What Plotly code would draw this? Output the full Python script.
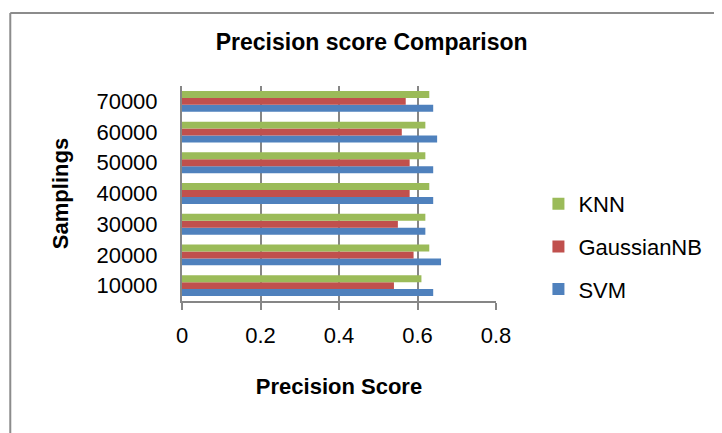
import plotly.graph_objects as go

categories = ["10000", "20000", "30000", "40000", "50000", "60000", "70000"]
svm = [0.64, 0.66, 0.62, 0.64, 0.64, 0.65, 0.64]
gaussian_nb = [0.54, 0.59, 0.55, 0.58, 0.58, 0.56, 0.57]
knn = [0.61, 0.63, 0.62, 0.63, 0.62, 0.62, 0.63]
x_ticks = [0, 0.2, 0.4, 0.6, 0.8]
x_tick_labels = ["0", "0.2", "0.4", "0.6", "0.8"]

FONT = "Liberation Sans, Arial, sans-serif"
GRID = "#868686"
FS = 22

fig = go.Figure()
for name, vals, col, rank in [("SVM", svm, "#4F81BD", 3),
                              ("GaussianNB", gaussian_nb, "#C0504D", 2),
                              ("KNN", knn, "#9BBB59", 1)]:
    fig.add_trace(go.Bar(y=categories, x=vals, name=name, orientation="h",
                         marker=dict(color=col, line=dict(width=0)),
                         legendgroup=name, legendrank=rank))

W, H = 722, 433
OFF = 8  # page body margin offset
# plot area in screen pixels: x 182 -> 496.5, y 86 -> 301
L, T = 182 - OFF, 86 - OFF
pw, ph = 314.5, 215
R = W - L - pw
B = H - T - ph

def px2x(p):
    return (p - OFF - L) / pw

def py2y(p):
    return (T + ph - (p - OFF)) / ph

BORDER = dict(color="#8c8c8c", width=2)

fig.update_layout(
    width=W, height=H,
    margin=dict(l=L, r=R, t=T, b=B, autoexpand=False),
    paper_bgcolor="white", plot_bgcolor="white",
    font=dict(family=FONT, size=FS, color="black"),
    barmode="group", bargap=0.32, bargroupgap=0,
    title=dict(text="<b>Precision score Comparison</b>", x=px2x(372), xref="paper",
               xanchor="center", y=1 - (42 - OFF) / H, yref="container", yanchor="middle",
               font=dict(size=23)),
    showlegend=True,
    legend=dict(x=px2x(539), y=py2y(183), xanchor="left", yanchor="top",
                traceorder="grouped", tracegroupgap=11,
                font=dict(size=FS), bgcolor="rgba(0,0,0,0)"),
    xaxis=dict(range=[0, 0.8], tickvals=x_ticks, ticktext=x_tick_labels,
               showgrid=True, gridcolor=GRID, gridwidth=1.5,
               showline=True, linecolor=GRID, linewidth=2,
               ticks="outside", ticklen=7, tickcolor=GRID, tickwidth=1.5,
               ticklabelstandoff=7, zeroline=False,
               title=dict(text="<b>Precision Score</b>", standoff=31, font=dict(size=FS))),
    yaxis=dict(type="category", showgrid=False, showline=True, linecolor=GRID,
               linewidth=2, ticks="", ticklabelstandoff=18,
               title=dict(text="<b>Samplings</b>", standoff=22, font=dict(size=FS))),
    shapes=[
        dict(type="line", xref="paper", yref="paper",
             x0=px2x(10), x1=px2x(10), y0=py2y(470), y1=py2y(13), line=BORDER),
        dict(type="line", xref="paper", yref="paper",
             x0=px2x(10), x1=px2x(729), y0=py2y(13), y1=py2y(13), line=BORDER),
    ],
)

fig.write_html("out.html")
